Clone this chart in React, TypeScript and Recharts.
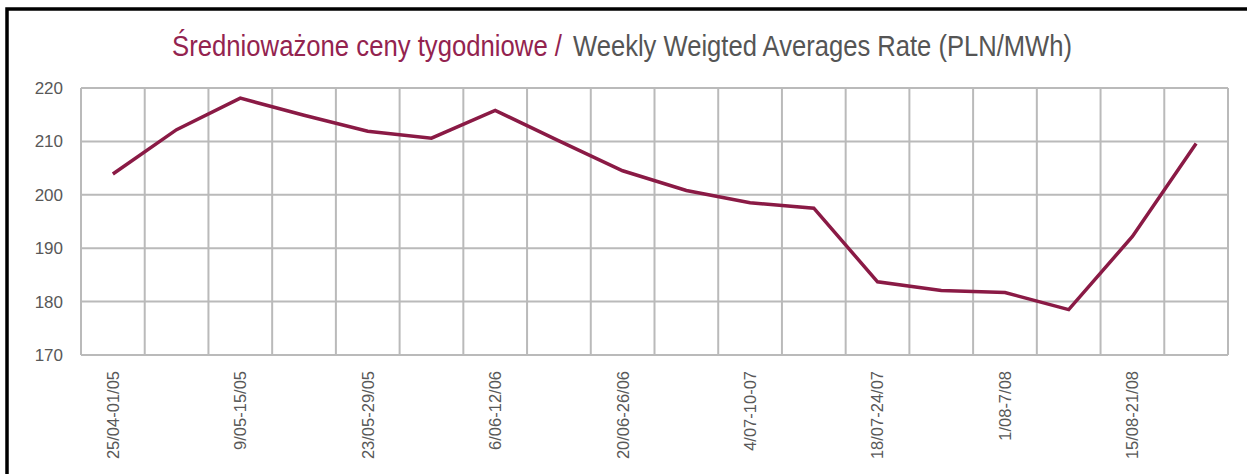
import React from "react";
import { LineChart, Line, XAxis, YAxis, CartesianGrid } from "recharts";

const weeks = [
  "25/04-01/05", "2/05-8/05", "9/05-15/05", "16/05-22/05", "23/05-29/05", "30/05-5/06",
  "6/06-12/06", "13/06-19/06", "20/06-26/06", "27/06-3/07", "4/07-10-07", "11/07-17/07",
  "18/07-24/07", "25/07-31/07", "1/08-7/08", "8/08-14/08", "15/08-21/08", "22/08-28/08",
];
const rates = [
  203.9, 212.2, 218.1, 214.9, 211.9, 210.6, 215.8, 210.1, 204.5,
  200.8, 198.5, 197.5, 183.7, 182.1, 181.7, 178.5, 192.2, 209.6,
];
const labelledWeeks = [0, 2, 4, 6, 8, 10, 12, 14, 16];
const yTicks = [170, 180, 190, 200, 210, 220];
const titlePl = "Średnioważone ceny tygodniowe /";
const titleEn = "Weekly Weigted Averages Rate (PLN/MWh)";

const data = weeks.map((w, i) => ({ pos: i + 0.5, week: w, rate: rates[i] }));
const labelTicks = labelledWeeks.map((i) => i + 0.5);
const gridTicks = weeks.map((_, i) => i).concat([weeks.length]);

const LINE = "#8a1a45";
const GRID = "#bababa";
const TEXT = "#585858";

const XTick = (props: any) => {
  const { x, y, payload } = props;
  const idx = Math.floor(payload.value);
  return (
    <g transform={`translate(${x},${y})`}>
      <text
        transform="rotate(-90)"
        x={-14}
        y={0}
        dy="0.36em"
        textAnchor="end"
        fill={TEXT}
        fontSize={16.5}
        fontFamily='"Liberation Sans", Arial, sans-serif'
      >
        {weeks[idx]}
      </text>
    </g>
  );
};

export default function App() {
  return (
    <div style={{ position: "absolute", left: 0, top: 0, width: 1247, height: 474, background: "#fff", overflow: "hidden" }}>
      <LineChart
        width={1247}
        height={474}
        data={data}
        margin={{ top: 88, right: 19, bottom: 0, left: 0 }}
      >
        <XAxis xAxisId="grid" type="number" dataKey="pos" domain={[0, weeks.length]} ticks={gridTicks} hide />
        <CartesianGrid xAxisId="grid" stroke={GRID} strokeWidth={2} />
        <XAxis
          type="number"
          dataKey="pos"
          domain={[0, weeks.length]}
          ticks={labelTicks}
          interval={0}
          height={119}
          tickSize={0}
          tickLine={false}
          axisLine={{ stroke: GRID, strokeWidth: 2 }}
          tick={<XTick />}
        />
        <YAxis
          domain={[170, 220]}
          ticks={yTicks}
          interval={0}
          width={81}
          tickSize={0}
          tickMargin={18}
          axisLine={false}
          tickLine={false}
          tick={{ fill: TEXT, fontSize: 17, fontFamily: '"Liberation Sans Narrow", "Liberation Sans", Arial, sans-serif' }}
        />
        <Line
          type="linear"
          dataKey="rate"
          stroke={LINE}
          strokeWidth={3.5}
          dot={false}
          isAnimationActive={false}
        />
      </LineChart>
      <svg width={1247} height={474} style={{ position: "absolute", left: 0, top: 0, pointerEvents: "none" }}>
        <rect x={7} y={9} width={1260} height={500} fill="none" stroke="#000" strokeWidth={3.5} />
        <text
          x={172}
          y={56}
          fontSize={29}
          fill="#93234f"
          fontFamily='"Liberation Sans", Arial, sans-serif'
          textLength={390}
          lengthAdjust="spacingAndGlyphs"
        >
          {titlePl}
        </text>
        <text
          x={573}
          y={56}
          fontSize={29}
          fill="#555555"
          fontFamily='"Liberation Sans", Arial, sans-serif'
          textLength={499}
          lengthAdjust="spacingAndGlyphs"
        >
          {titleEn}
        </text>
      </svg>
    </div>
  );
}
